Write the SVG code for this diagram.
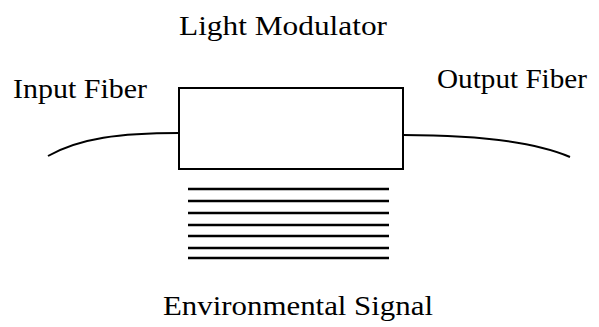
<svg xmlns="http://www.w3.org/2000/svg" width="599" height="327" viewBox="0 0 599 327">
<style>
.t{font-family:"Liberation Serif","Times New Roman",serif;font-size:28px;fill:#000}
.s{fill:none;stroke:#000;stroke-width:2}
.l{stroke:#000;stroke-width:2.5}
</style>
<rect width="599" height="327" fill="#fff"/>
<g id="connectors">
<path class="s" d="M48,156 C80,138 120,133 179,133"/>
<path class="s" d="M403,135 C470,135 530,140 570,157"/>
</g>
<g id="modulator">
<rect class="s" x="179" y="88" width="224" height="81"/>
<text class="t" x="179" y="35" textLength="208" lengthAdjust="spacingAndGlyphs">Light Modulator</text>
</g>
<g id="input-fiber">
<text class="t" x="13" y="98" textLength="134" lengthAdjust="spacingAndGlyphs">Input Fiber</text>
</g>
<g id="output-fiber">
<text class="t" x="437" y="88" textLength="150" lengthAdjust="spacingAndGlyphs">Output Fiber</text>
</g>
<g id="environmental-signal">
<line class="l" x1="188" y1="189" x2="389" y2="189"/>
<line class="l" x1="188" y1="201" x2="389" y2="201"/>
<line class="l" x1="188" y1="213" x2="389" y2="213"/>
<line class="l" x1="188" y1="225" x2="389" y2="225"/>
<line class="l" x1="188" y1="236" x2="389" y2="236"/>
<line class="l" x1="188" y1="248" x2="389" y2="248"/>
<line class="l" x1="188" y1="258" x2="389" y2="258"/>
<text class="t" x="163" y="315" textLength="270" lengthAdjust="spacingAndGlyphs">Environmental Signal</text>
</g>
</svg>
